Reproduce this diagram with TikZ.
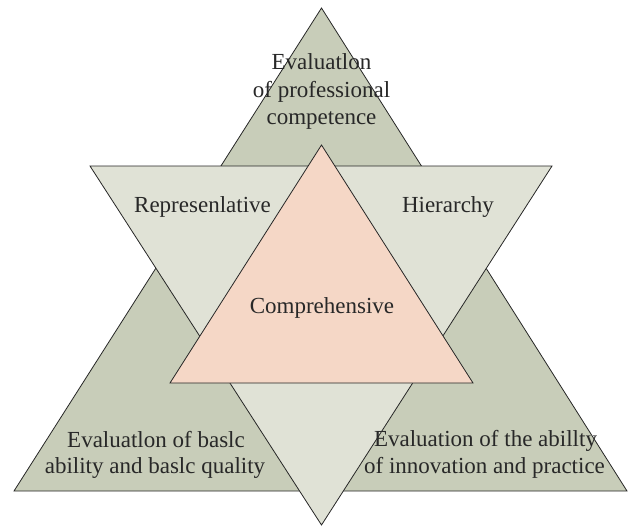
\documentclass[tikz,border=0pt]{standalone}
\usepackage{fontspec}
\setmainfont{Liberation Serif}
\definecolor{greenfill}{RGB}{200,205,185}
\definecolor{lightfill}{RGB}{224,226,214}
\definecolor{pinkfill}{RGB}{245,215,198}
\definecolor{txt}{RGB}{40,40,40}
\tikzset{
  tri/.style={draw=black!85, line width=0.8pt, line join=miter},
  lbl/.style={text=txt, font=\fontsize{23}{27}\selectfont, align=center, inner sep=0pt}
}
\begin{document}
\begin{tikzpicture}[x=1pt,y=-1pt]
\useasboundingbox (0,0) rectangle (628,527);
% big upright triangle
\coordinate (g1) at (321.5,8);
\coordinate (g2) at (14,491);
\coordinate (g3) at (627,491);
% big inverted triangle
\coordinate (l1) at (90,166);
\coordinate (l2) at (552,166);
\coordinate (l3) at (321.5,525);
% inner triangle
\coordinate (p1) at (321.5,145);
\coordinate (p2) at (170,383);
\coordinate (p3) at (473,383);
\filldraw[tri, fill=greenfill] (g1) -- (g2) -- (g3) -- cycle;
\filldraw[tri, fill=lightfill] (l1) -- (l2) -- (l3) -- cycle;
\filldraw[tri, fill=pinkfill] (p1) -- (p2) -- (p3) -- cycle;
\node[lbl, anchor=base] (top) at (321.5,97) {of professional};
\node[lbl, anchor=base] (top1) at (321.5,69) {Evaluatlon};
\node[lbl, anchor=base] (top3) at (321.5,124) {competence};
\node[lbl, anchor=base] (rep) at (202.5,212) {Represenlative};
\node[lbl, anchor=base] (hie) at (448,212) {Hierarchy};
\node[lbl, anchor=base] (com) at (322,313) {Comprehensive};
\node[lbl, anchor=base] (bl1) at (156,447) {Evaluatlon of baslc};
\node[lbl, anchor=base] (bl2) at (155,473) {ability and baslc quality};
\node[lbl, anchor=base] (br1) at (485.5,446) {Evaluation of the abillty};
\node[lbl, anchor=base] (br2) at (484.5,473) {of innovation and practice};
\end{tikzpicture}
\end{document}
